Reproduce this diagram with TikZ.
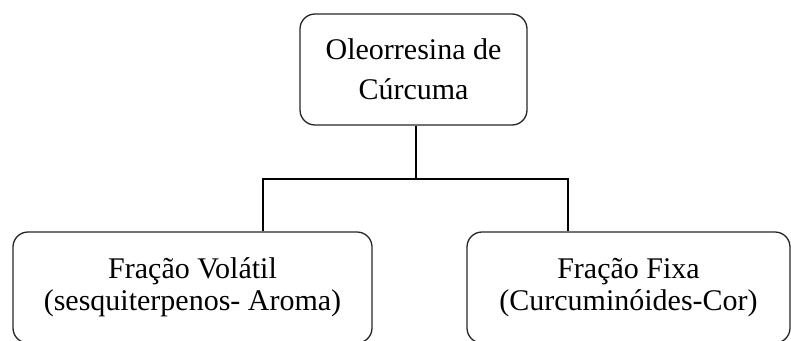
\documentclass[tikz,border=0pt]{standalone}
\usepackage{fontspec}
\setmainfont{Liberation Serif}

\begin{document}
\begin{tikzpicture}[x=1pt,y=-1pt,
		caixa/.style={draw=black!85,line width=1.3pt,rounded corners=15pt,align=center,inner sep=0pt,
			minimum height=111pt,font=\fontsize{30}{40}\selectfont},
		liga/.style={line width=1.3pt}]
			\path[use as bounding box,clip] (0,0) rectangle (791,340);
			\node[caixa,minimum width=227pt] (oleo) at (413.5,69.5) {Oleorresina de\\Cúrcuma};
			\node[caixa,minimum width=359pt,font=\fontsize{30}{32}\selectfont] (volatil) at (192.5,287.5) {Fração Volátil\\(sesquiterpenos- Aroma)};
			\node[caixa,minimum width=323pt,font=\fontsize{30}{32}\selectfont] (fixa) at (628.5,287.5) {Fração Fixa\\(Curcuminóides-Cor)};
			\coordinate (meio) at (416,179);
			\coordinate (esq) at (263,179);
			\coordinate (dir) at (568,179);
			\draw[liga] (oleo.south -| meio) -- (meio);
			\draw[liga] (volatil.north -| esq) -- (esq) -- (dir) -- (fixa.north -| dir);
		\end{tikzpicture}
\end{document}
